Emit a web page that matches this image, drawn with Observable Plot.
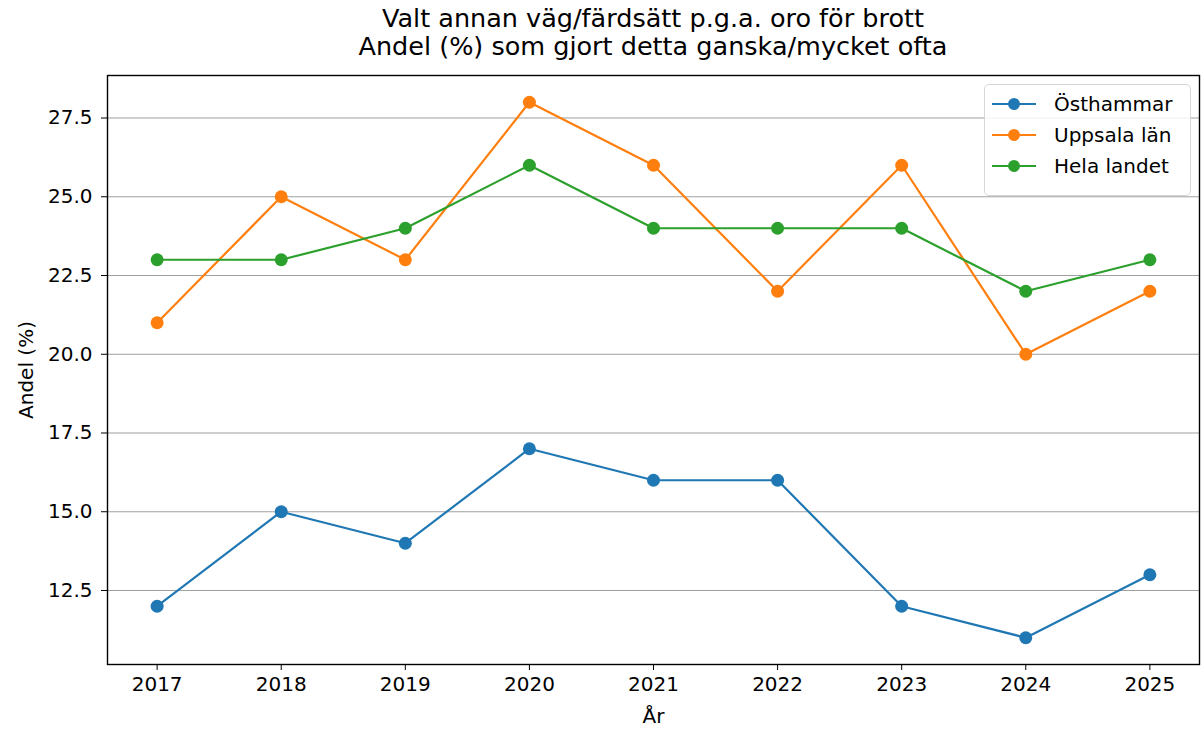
<!DOCTYPE html>
<html><head><meta charset="utf-8">
<script src="https://cdn.jsdelivr.net/npm/d3@7"></script>
<script src="https://cdn.jsdelivr.net/npm/@observablehq/plot@0.6"></script>
<style>
body{margin:0;background:#fff;font-family:"DejaVu Sans",sans-serif;}
#wrap{position:relative;width:1201px;height:729px;}
#title{position:absolute;left:107px;width:1092px;top:4px;text-align:center;font-size:25.5px;line-height:28px;color:#000;}
#legend{position:absolute;left:984px;top:84px;width:207px;height:112px;border:1px solid #d6d6d6;border-radius:5px;background:rgba(255,255,255,0.85);font-size:20px;box-sizing:border-box;}
.row{position:absolute;left:5px;height:24px;display:flex;align-items:center;}
.row svg{margin-right:16px;}
#chart{position:absolute;left:0;top:65px;}
</style></head>
<body><div id="wrap">
<div id="title">Valt annan väg/färdsätt p.g.a. oro för brott<br>Andel (%) som gjort detta ganska/mycket ofta</div>
<div id="chart"></div>
<div id="legend"></div>
</div>
<script>
const years = [2017, 2018, 2019, 2020, 2021, 2022, 2023, 2024, 2025];
const seriesNames = ["Östhammar", "Uppsala län", "Hela landet"];
const osthammar = [12, 15, 14, 17, 16, 16, 12, 11, 13];
const uppsala = [21, 25, 23, 28, 26, 22, 26, 20, 22];
const helaLandet = [23, 23, 24, 26, 24, 24, 24, 22, 23];
const colors = ["#1f77b4", "#ff7f0e", "#2ca02c"];
const yTicks = [12.5, 15.0, 17.5, 20.0, 22.5, 25.0, 27.5];

const valuesList = [osthammar, uppsala, helaLandet];
const data = [];
seriesNames.forEach((s, i) => years.forEach((y, j) => data.push({serie: s, year: y, value: valuesList[i][j]})));

const plot = Plot.plot({
  width: 1201,
  height: 664,
  marginLeft: 107,
  marginRight: 2,
  marginTop: 10,
  marginBottom: 65,
  style: {fontFamily: "DejaVu Sans, sans-serif", fontSize: "20px", color: "#000", background: "#fff"},
  x: {domain: [2016.6, 2025.4]},
  y: {domain: [10.15, 28.85]},
  color: {domain: seriesNames, range: colors},
  marks: [
    Plot.gridY(yTicks, {stroke: "#a0a0a0", strokeOpacity: 1, strokeWidth: 1.2}),
    Plot.line(data, {x: "year", y: "value", z: "serie", stroke: "serie", strokeWidth: 2.2}),
    Plot.dot(data, {x: "year", y: "value", fill: "serie", r: 6.5}),
    Plot.frame({stroke: "#000", strokeWidth: 1.4}),
    Plot.axisX({ticks: years, tickFormat: d => String(d), tickSize: 6, tickPadding: 6, fontSize: 20, label: "År", labelAnchor: "center", labelOffset: 58, labelArrow: "none"}),
    Plot.axisY({ticks: yTicks, tickFormat: d3.format(".1f"), tickSize: 6, tickPadding: 9, fontSize: 20, label: "Andel (%)", labelAnchor: "center", labelOffset: 89, labelArrow: "none"})
  ]
});
document.getElementById("chart").appendChild(plot);

const leg = document.getElementById("legend");
seriesNames.forEach((s, i) => {
  const row = document.createElement("div");
  row.className = "row";
  row.style.top = (7 + i * 31) + "px";
  row.innerHTML = `<svg width="48" height="16"><line x1="2" x2="46" y1="8" y2="8" stroke="${colors[i]}" stroke-width="2.2"/><circle cx="24" cy="8" r="6" fill="${colors[i]}"/></svg><span>${s}</span>`;
  leg.appendChild(row);
});
</script>
</body></html>
